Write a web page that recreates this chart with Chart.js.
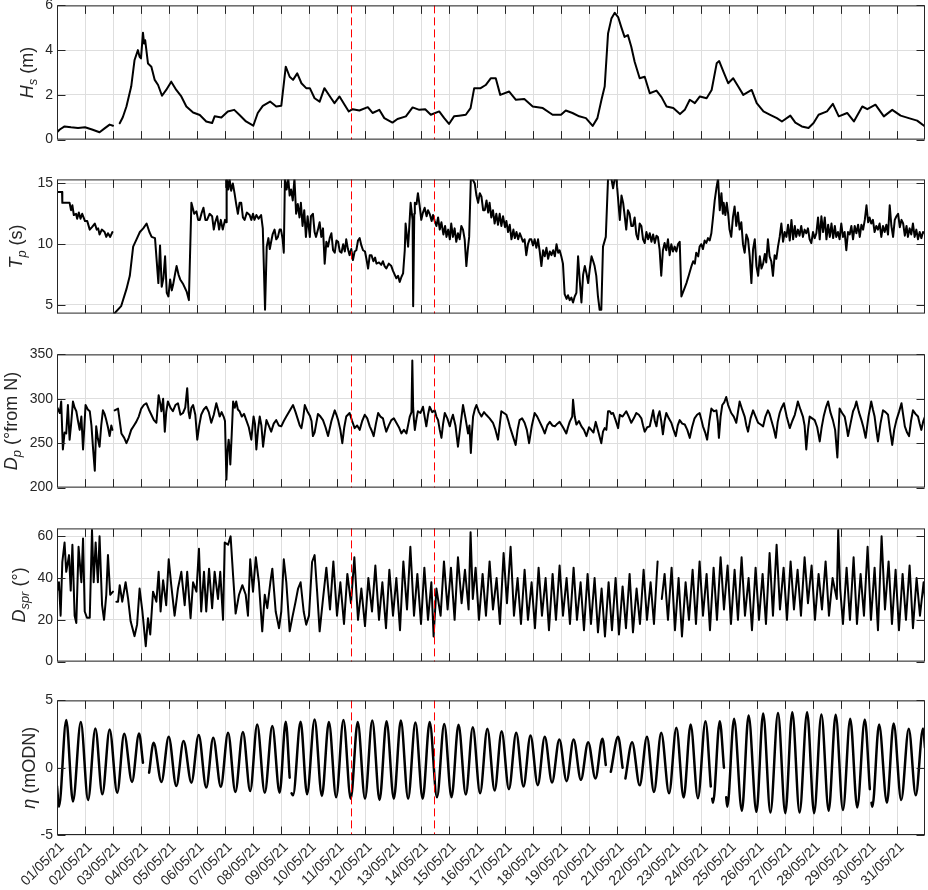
<!DOCTYPE html>
<html>
<head>
<meta charset="utf-8">
<script src="https://cdn.jsdelivr.net/npm/chart.js@4.4.0/dist/chart.umd.min.js"></script>
<style>
  html, body { margin: 0; padding: 0; background: #fff; overflow: hidden; }
  body { width: 928px; height: 890px; position: relative; }
  canvas { position: absolute; left: 0; }
</style>
</head>
<body>
<canvas id="hs"></canvas>
<canvas id="tp"></canvas>
<canvas id="dp"></canvas>
<canvas id="dspr"></canvas>
<canvas id="eta"></canvas>
<script>
"use strict";

// x axis: days since 01/05/21 00:00
const dayLabels = [
  "01/05/21", "02/05/21", "03/05/21", "04/05/21", "05/05/21", "06/05/21", "07/05/21", "08/05/21",
  "09/05/21", "10/05/21", "11/05/21", "12/05/21", "13/05/21", "14/05/21", "15/05/21", "16/05/21",
  "17/05/21", "18/05/21", "19/05/21", "20/05/21", "21/05/21", "22/05/21", "23/05/21", "24/05/21",
  "25/05/21", "26/05/21", "27/05/21", "28/05/21", "29/05/21", "30/05/21", "31/05/21"
];
const markerDays = [10.5, 13.46];

const hsTicks = [0, 2, 4, 6];
const tpTicks = [5, 10, 15];
const dpTicks = [200, 250, 300, 350];
const dsprTicks = [0, 20, 40, 60];
const etaTicks = [-5, 0, 5];

// [day, Hs (m)]
const waveHeight = [
  [0,0.33],[0.1,0.45],[0.27,0.59],[0.5,0.55],[0.75,0.52],[1,0.55],[1.25,0.45],[1.52,0.33],[1.7,0.5],[1.88,0.67],
  [2,0.62],[2.1,null],[2.24,0.73],[2.35,1.0],[2.48,1.48],[2.65,2.37],[2.77,3.56],[2.89,4.0],[2.95,3.7],[3.0,3.63],
  [3.07,4.78],[3.11,4.3],[3.15,4.44],[3.25,3.4],[3.37,3.26],[3.49,2.67],[3.61,2.44],[3.75,1.96],[3.9,2.22],[4.08,2.59],
  [4.26,2.22],[4.44,1.93],[4.62,1.48],[4.86,1.21],[5.1,1.1],[5.33,0.81],[5.54,0.74],[5.63,1.04],[5.87,0.99],[6.1,1.26],
  [6.33,1.33],[6.52,1.1],[6.75,0.81],[7.01,0.62],[7.17,1.19],[7.35,1.51],[7.61,1.7],[7.83,1.48],[8.01,1.51],[8.17,3.26],
  [8.31,2.81],[8.43,2.67],[8.58,2.96],[8.73,2.52],[8.9,2.3],[9.03,2.3],[9.2,1.85],[9.38,1.7],[9.55,2.3],[9.79,1.85],
  [9.91,1.63],[10.09,1.93],[10.27,1.56],[10.42,1.26],[10.56,1.36],[10.8,1.3],[11.1,1.45],[11.27,1.19],[11.51,1.33],[11.69,0.96],
  [11.98,0.76],[12.16,0.92],[12.46,1.04],[12.7,1.44],[12.94,1.33],[13.15,1.36],[13.35,1.11],[13.65,1.26],[13.83,0.96],[14.0,0.7],
  [14.18,1.04],[14.36,1.07],[14.6,1.11],[14.77,1.41],[14.9,2.3],[15.13,2.3],[15.31,2.44],[15.49,2.74],[15.67,2.74],[15.83,2.0],
  [16.15,2.15],[16.39,1.78],[16.69,1.81],[16.99,1.48],[17.35,1.41],[17.7,1.11],[18.0,1.11],[18.17,1.3],[18.41,1.19],[18.65,1.04],
  [18.89,0.96],[19.13,0.61],[19.3,0.96],[19.45,1.8],[19.56,2.37],[19.68,4.74],[19.8,5.41],[19.92,5.67],[20.04,5.48],[20.15,5.04],
  [20.27,4.59],[20.39,4.67],[20.51,4.15],[20.63,3.48],[20.81,2.74],[20.99,2.81],[21.17,2.07],[21.41,2.19],[21.59,1.9],[21.77,1.48],
  [22.01,1.41],[22.25,1.14],[22.42,1.33],[22.6,1.78],[22.78,1.63],[22.96,1.93],[23.2,1.85],[23.38,2.22],[23.56,3.41],[23.65,3.51],
  [23.8,3.04],[23.97,2.52],[24.15,2.74],[24.33,2.37],[24.51,2.0],[24.81,2.22],[24.99,1.63],[25.23,1.26],[25.47,1.11],[25.71,0.96],
  [25.89,0.81],[26.19,1.07],[26.37,0.76],[26.6,0.59],[26.84,0.52],[27.02,0.74],[27.2,1.11],[27.5,1.26],[27.71,1.6],[27.92,1.04],
  [28.22,1.19],[28.46,0.81],[28.76,1.48],[28.94,1.36],[29.23,1.56],[29.53,1.04],[29.83,1.33],[30.13,1.07],[30.42,0.96],[30.72,0.85],
  [31,0.59]
];

// [day, Tp (s)]
const peakPeriod = [
  [0,14.3],[0.18,14.3],[0.19,13.4],[0.45,13.4],[0.5,12.8],[0.55,13.2],[0.6,12.4],[0.68,12.5],[0.72,12.1],[0.78,12.6],
  [0.84,12.1],[0.9,12.5],[1.0,11.9],[1.08,11.9],[1.17,11.2],[1.25,11.4],[1.35,11.7],[1.42,11.2],[1.47,11.3],[1.52,10.8],
  [1.6,11.2],[1.7,11.0],[1.76,10.6],[1.82,10.9],[1.9,10.6],[1.98,11.0],[2.02,null],[2.05,4.3],[2.29,4.9],[2.48,6.3],
  [2.6,7.4],[2.72,9.8],[2.84,10.4],[2.96,11.0],[3.08,11.3],[3.2,11.7],[3.3,11.0],[3.38,10.6],[3.5,10.5],[3.62,6.8],
  [3.68,9.9],[3.74,6.5],[3.8,7.2],[3.86,9.0],[3.92,6.0],[3.98,5.7],[4.04,7.1],[4.1,6.2],[4.15,6.7],[4.22,7.6],
  [4.27,8.2],[4.34,7.5],[4.4,7.1],[4.51,6.7],[4.63,6.1],[4.71,5.4],[4.8,13.4],[4.9,12.5],[4.98,12.7],[5.04,12.0],
  [5.1,12.0],[5.17,12.6],[5.23,13.0],[5.3,12.0],[5.36,12.0],[5.45,12.5],[5.54,12.3],[5.6,11.2],[5.65,11.8],[5.72,12.3],
  [5.79,11.2],[5.85,12.0],[5.92,11.2],[6.0,12.0],[6.04,11.8],[6.06,15.4],[6.12,14.5],[6.16,15.4],[6.22,14.4],[6.28,15.0],
  [6.34,14.2],[6.4,13.3],[6.46,12.5],[6.52,13.4],[6.58,13.4],[6.64,12.2],[6.7,12.0],[6.78,12.6],[6.88,12.4],[6.94,12.0],
  [7.0,12.5],[7.05,12.0],[7.12,12.4],[7.2,12.1],[7.29,12.4],[7.35,11.3],[7.43,4.6],[7.49,9.8],[7.55,10.5],[7.6,9.6],
  [7.64,10.1],[7.7,10.8],[7.77,11.2],[7.83,10.4],[7.89,10.6],[7.95,11.2],[8.0,11.2],[8.06,10.4],[8.1,9.3],[8.14,15.4],
  [8.2,14.5],[8.26,15.4],[8.31,14.0],[8.36,14.5],[8.42,13.6],[8.48,15.4],[8.54,12.5],[8.6,13.3],[8.66,12.2],[8.71,13.4],
  [8.77,11.5],[8.83,12.8],[8.89,10.6],[8.95,12.3],[9.03,10.6],[9.07,12.3],[9.14,12.5],[9.2,11.0],[9.25,10.6],[9.32,11.2],
  [9.38,11.8],[9.44,10.6],[9.5,11.3],[9.56,8.4],[9.62,10.2],[9.68,9.8],[9.74,10.5],[9.8,10.9],[9.86,9.5],[9.92,9.3],
  [9.98,10.3],[10.04,10.2],[10.1,9.4],[10.16,9.3],[10.22,10.0],[10.28,9.4],[10.33,10.4],[10.39,9.6],[10.45,9.1],[10.51,9.6],
  [10.57,8.7],[10.63,9.4],[10.69,9.5],[10.75,10.3],[10.81,10.5],[10.87,9.9],[10.93,9.5],[11.0,9.4],[11.05,8.8],[11.11,8.0],
  [11.17,9.1],[11.23,9.1],[11.3,8.6],[11.36,8.9],[11.41,8.4],[11.5,8.5],[11.58,8.3],[11.64,8.6],[11.7,8.2],[11.76,8.0],
  [11.85,8.4],[11.94,8.2],[12.0,7.8],[12.06,7.5],[12.12,7.2],[12.18,7.4],[12.24,6.9],[12.3,7.3],[12.36,7.6],[12.42,9.5],
  [12.45,11.7],[12.5,10.6],[12.54,9.8],[12.6,12.2],[12.63,13.4],[12.7,12.0],[12.72,4.9],[12.76,12.5],[12.78,13.4],[12.84,13.3],
  [12.89,14.2],[12.95,13.2],[13.01,12.0],[13.07,12.6],[13.13,13.0],[13.2,12.3],[13.25,12.8],[13.31,12.5],[13.38,11.9],[13.43,12.4],
  [13.49,11.9],[13.55,11.5],[13.61,12.2],[13.67,11.2],[13.73,11.8],[13.8,10.8],[13.86,11.5],[13.91,10.6],[13.97,11.2],[14.03,10.4],
  [14.08,11.7],[14.14,10.6],[14.2,11.3],[14.26,10.2],[14.32,10.9],[14.38,10.4],[14.44,11.5],[14.5,11.2],[14.56,10.4],[14.62,8.2],
  [14.67,9.5],[14.72,10.6],[14.78,15.4],[14.85,15.3],[14.92,15.0],[14.98,14.0],[15.04,13.4],[15.1,14.2],[15.16,13.9],[15.22,12.8],
  [15.28,12.8],[15.34,13.6],[15.4,12.6],[15.45,13.4],[15.51,12.2],[15.57,12.8],[15.63,11.7],[15.69,12.5],[15.75,11.6],[15.81,12.5],
  [15.87,11.5],[15.93,12.3],[16.0,11.4],[16.05,11.9],[16.11,11.0],[16.17,11.6],[16.23,10.4],[16.3,11.2],[16.35,10.5],[16.41,11.0],
  [16.47,10.4],[16.53,10.9],[16.58,10.6],[16.64,10.2],[16.7,10.4],[16.76,9.1],[16.82,10.0],[16.88,10.4],[16.94,10.4],[17.0,9.9],
  [17.06,10.4],[17.12,9.7],[17.18,10.4],[17.24,9.4],[17.3,8.2],[17.36,9.5],[17.42,9.0],[17.48,9.7],[17.54,8.8],[17.6,9.4],
  [17.66,9.1],[17.72,9.5],[17.78,9.0],[17.84,10.0],[17.9,9.3],[17.95,9.5],[18.01,9.0],[18.07,8.4],[18.13,5.9],[18.2,5.5],
  [18.25,5.8],[18.31,5.4],[18.37,5.6],[18.43,5.2],[18.49,5.7],[18.55,6.0],[18.61,9.0],[18.67,7.0],[18.73,5.2],[18.79,7.5],
  [18.85,8.2],[18.91,7.6],[18.97,6.8],[19.03,8.0],[19.09,9.0],[19.15,8.6],[19.2,8.2],[19.26,7.4],[19.32,5.7],[19.38,4.6],
  [19.44,4.6],[19.5,9.8],[19.6,10.6],[19.68,15.4],[19.8,15.4],[19.86,14.6],[19.92,15.4],[19.98,15.4],[20.1,12.0],[20.16,14.0],
  [20.22,13.4],[20.28,12.2],[20.33,11.2],[20.39,12.8],[20.45,12.5],[20.51,11.5],[20.57,11.5],[20.63,12.2],[20.69,10.8],[20.75,10.4],
  [20.81,11.7],[20.87,11.5],[20.93,10.4],[20.99,10.1],[21.05,11.0],[21.11,10.4],[21.17,10.9],[21.23,10.2],[21.29,10.8],[21.35,10.1],
  [21.41,10.7],[21.46,10.6],[21.52,9.6],[21.58,7.4],[21.64,9.5],[21.7,10.1],[21.76,9.5],[21.82,10.4],[21.88,9.1],[21.94,10.0],
  [22.0,9.4],[22.06,9.8],[22.12,9.4],[22.18,10.0],[22.24,10.2],[22.3,5.7],[22.4,6.3],[22.48,6.8],[22.56,7.4],[22.66,8.2],
  [22.72,8.6],[22.78,8.4],[22.83,9.3],[22.9,9.0],[22.95,9.8],[23.01,10.0],[23.07,9.6],[23.13,10.3],[23.19,10.1],[23.25,10.5],
  [23.31,10.3],[23.37,10.9],[23.43,12.2],[23.49,13.6],[23.55,14.6],[23.61,15.4],[23.67,12.8],[23.73,14.2],[23.78,12.5],[23.81,13.4],
  [23.87,12.4],[23.92,13.4],[23.97,12.5],[24.02,11.2],[24.08,10.6],[24.14,12.2],[24.2,13.1],[24.26,11.5],[24.32,12.6],[24.38,11.2],
  [24.44,11.8],[24.5,10.0],[24.56,9.3],[24.62,10.8],[24.68,10.4],[24.74,9.0],[24.8,6.8],[24.86,9.6],[24.92,10.4],[24.98,8.2],
  [25.04,7.4],[25.1,9.0],[25.16,8.0],[25.22,8.4],[25.28,9.2],[25.33,8.5],[25.39,10.4],[25.45,9.0],[25.51,8.6],[25.57,7.4],
  [25.63,9.1],[25.69,8.8],[25.75,9.8],[25.81,10.6],[25.87,11.7],[25.93,10.2],[25.99,11.0],[26.05,10.6],[26.11,11.6],[26.17,10.3],
  [26.23,12.0],[26.29,10.4],[26.35,11.5],[26.4,10.6],[26.46,11.2],[26.52,10.7],[26.58,11.5],[26.64,10.6],[26.7,11.2],[26.76,10.9],
  [26.82,11.3],[26.88,10.4],[26.94,10.1],[27.0,11.0],[27.06,10.5],[27.12,10.9],[27.18,12.2],[27.24,10.4],[27.3,12.3],[27.36,11.0],
  [27.42,12.2],[27.48,10.4],[27.54,11.6],[27.6,10.6],[27.66,11.7],[27.72,10.5],[27.78,11.5],[27.83,10.6],[27.89,11.0],[27.95,10.4],
  [28.01,11.7],[28.07,10.6],[28.13,11.0],[28.19,9.5],[28.25,11.0],[28.31,10.8],[28.37,11.5],[28.43,10.4],[28.49,11.5],[28.55,10.9],
  [28.61,11.6],[28.67,10.6],[28.73,11.6],[28.79,11.2],[28.85,12.0],[28.91,13.2],[28.97,11.8],[29.02,12.2],[29.08,11.7],[29.14,12.0],
  [29.2,11.0],[29.26,11.5],[29.32,11.2],[29.38,11.7],[29.44,10.6],[29.5,11.5],[29.56,11.0],[29.62,11.6],[29.68,10.8],[29.74,13.2],
  [29.8,11.5],[29.86,10.6],[29.92,12.0],[29.98,12.3],[30.04,12.5],[30.1,11.4],[30.16,12.0],[30.22,11.7],[30.28,10.7],[30.34,11.5],
  [30.39,10.6],[30.45,11.3],[30.51,10.8],[30.57,11.7],[30.63,10.6],[30.69,11.2],[30.75,10.4],[30.81,11.0],[30.87,10.5],[30.93,11.0],
  [31,10.9]
];

// [day, Dp (deg from N)]
const peakDirection = [
  [0,291],[0.1,284],[0.15,297],[0.21,243],[0.27,262],[0.33,261],[0.39,293],[0.45,254],[0.5,270],[0.57,297],
  [0.63,290],[0.69,286],[0.75,275],[0.81,265],[0.87,280],[0.93,243],[0.98,270],[1.02,293],[1.1,288],[1.17,286],
  [1.23,270],[1.29,243],[1.35,219],[1.4,269],[1.46,255],[1.52,246],[1.58,270],[1.64,287],[1.7,283],[1.76,276],
  [1.82,268],[1.88,258],[1.94,270],[1.98,265],[2.02,null],[2.06,287],[2.18,289],[2.3,261],[2.4,256],[2.48,250],
  [2.56,256],[2.65,265],[2.75,270],[2.83,274],[2.92,280],[3.01,289],[3.1,293],[3.19,295],[3.28,288],[3.37,282],
  [3.46,276],[3.55,273],[3.63,304],[3.68,296],[3.73,286],[3.79,300],[3.85,263],[3.9,285],[3.96,297],[4.05,290],
  [4.14,286],[4.23,293],[4.32,295],[4.41,282],[4.5,284],[4.58,290],[4.65,312],[4.7,285],[4.74,278],[4.8,290],
  [4.86,293],[4.94,282],[5.01,254],[5.08,270],[5.15,282],[5.24,288],[5.33,291],[5.42,285],[5.51,273],[5.6,282],
  [5.69,295],[5.75,288],[5.81,280],[5.88,285],[5.95,280],[6.0,275],[6.05,209],[6.09,240],[6.13,254],[6.16,245],
  [6.19,226],[6.24,260],[6.29,297],[6.35,290],[6.4,297],[6.46,288],[6.52,286],[6.6,280],[6.68,283],[6.76,276],
  [6.85,268],[6.94,254],[7.02,280],[7.07,272],[7.12,243],[7.18,265],[7.24,280],[7.3,270],[7.36,246],[7.42,262],
  [7.48,276],[7.56,270],[7.65,263],[7.74,272],[7.83,276],[7.92,270],[8.01,269],[8.1,275],[8.19,280],[8.3,286],
  [8.43,293],[8.52,285],[8.61,276],[8.67,270],[8.73,267],[8.79,278],[8.85,293],[8.94,286],[9.03,281],[9.09,275],
  [9.14,258],[9.2,262],[9.32,283],[9.41,280],[9.5,276],[9.59,268],[9.68,258],[9.8,275],[9.92,287],[9.98,282],
  [10.04,276],[10.12,265],[10.19,250],[10.26,268],[10.33,280],[10.45,284],[10.54,275],[10.63,267],[10.72,270],[10.81,265],
  [10.9,275],[10.99,282],[11.08,278],[11.17,269],[11.24,264],[11.31,258],[11.39,272],[11.47,284],[11.55,280],[11.64,278],
  [11.7,270],[11.76,263],[11.85,270],[11.94,276],[12.03,278],[12.12,273],[12.21,268],[12.3,261],[12.39,265],[12.48,261],
  [12.55,272],[12.6,280],[12.66,285],[12.69,343],[12.72,290],[12.75,275],[12.78,265],[12.84,278],[12.89,286],[12.98,284],
  [13.07,291],[13.13,280],[13.19,269],[13.25,282],[13.31,291],[13.4,285],[13.49,287],[13.55,280],[13.61,276],[13.67,265],
  [13.73,256],[13.79,272],[13.85,284],[13.94,278],[14.03,269],[14.08,276],[14.14,282],[14.23,270],[14.32,246],[14.41,270],
  [14.5,293],[14.59,278],[14.68,261],[14.73,270],[14.78,239],[14.82,262],[14.86,280],[14.92,288],[14.98,293],[15.07,285],
  [15.16,280],[15.25,285],[15.33,282],[15.45,278],[15.57,273],[15.66,265],[15.75,254],[15.81,270],[15.87,286],[15.96,284],
  [16.05,282],[16.11,276],[16.17,269],[16.28,258],[16.38,248],[16.45,265],[16.52,276],[16.61,278],[16.7,273],[16.78,265],
  [16.86,250],[16.96,270],[17.06,284],[17.15,280],[17.24,274],[17.33,268],[17.42,261],[17.51,270],[17.6,274],[17.69,270],
  [17.78,269],[17.87,272],[17.95,274],[18.07,268],[18.19,261],[18.25,268],[18.31,274],[18.4,280],[18.43,299],[18.49,280],
  [18.55,271],[18.64,275],[18.73,269],[18.82,265],[18.91,258],[19.0,268],[19.08,265],[19.16,262],[19.24,274],[19.34,262],
  [19.44,250],[19.5,263],[19.56,267],[19.62,265],[19.68,286],[19.74,286],[19.8,283],[19.86,284],[19.95,276],[20.04,267],
  [20.1,282],[20.2,280],[20.33,286],[20.42,280],[20.51,273],[20.6,278],[20.69,284],[20.78,282],[20.87,278],[20.93,270],
  [20.99,263],[21.08,268],[21.17,269],[21.23,278],[21.29,287],[21.35,275],[21.41,269],[21.46,280],[21.52,286],[21.58,275],
  [21.64,260],[21.7,275],[21.76,284],[21.85,278],[21.94,273],[22.02,265],[22.1,258],[22.17,270],[22.24,276],[22.33,272],
  [22.42,271],[22.51,265],[22.6,256],[22.68,268],[22.77,278],[22.86,282],[22.95,284],[23.01,277],[23.07,269],[23.15,262],
  [23.22,254],[23.3,275],[23.37,289],[23.46,286],[23.55,287],[23.6,275],[23.64,256],[23.7,280],[23.76,293],[23.83,296],
  [23.9,302],[23.97,293],[24.08,284],[24.17,280],[24.26,273],[24.32,285],[24.38,297],[24.47,288],[24.56,280],[24.62,270],
  [24.68,263],[24.77,278],[24.86,287],[24.95,280],[25.04,273],[25.13,271],[25.22,269],[25.3,280],[25.39,287],[25.45,283],
  [25.51,276],[25.6,266],[25.67,256],[25.74,274],[25.81,284],[25.88,290],[25.96,295],[26.06,280],[26.17,267],[26.26,275],
  [26.35,282],[26.41,290],[26.46,297],[26.55,288],[26.64,280],[26.7,270],[26.76,243],[26.82,265],[26.88,280],[26.97,278],
  [27.06,276],[27.15,268],[27.24,252],[27.31,268],[27.38,280],[27.46,290],[27.54,297],[27.62,285],[27.71,276],[27.79,265],
  [27.87,234],[27.91,262],[27.95,289],[28.04,284],[28.13,280],[28.19,270],[28.25,258],[28.34,272],[28.43,286],[28.49,290],
  [28.55,297],[28.64,285],[28.73,276],[28.8,268],[28.88,256],[28.98,280],[29.08,297],[29.14,288],[29.2,280],[29.26,265],
  [29.32,252],[29.41,272],[29.5,287],[29.59,285],[29.68,282],[29.75,265],[29.83,248],[29.9,265],[29.98,276],[30.07,285],
  [30.16,295],[30.22,282],[30.28,269],[30.36,262],[30.43,258],[30.5,275],[30.57,287],[30.66,283],[30.75,280],[30.81,272],
  [30.87,265],[30.94,275],[31,280]
];

// [day, directional spread (deg)]
const dirSpread = [
  [0,33.5],[0.07,38],[0.13,22],[0.19,47.7],[0.27,57],[0.33,43],[0.43,51],[0.49,34],[0.55,56],[0.63,22],
  [0.69,18.5],[0.77,55],[0.87,38],[0.93,59],[0.99,24],[1.07,21],[1.17,21],[1.25,63],[1.31,38],[1.38,57],
  [1.46,38],[1.52,60],[1.61,27],[1.68,20],[1.76,32],[1.82,51],[1.9,32],[2.0,33.5],[2.05,null],[2.12,28.7],
  [2.18,28.7],[2.24,36.6],[2.33,28.7],[2.45,38],[2.54,30],[2.63,19.3],[2.77,12.2],[2.86,17.7],[2.95,35],[3.05,24],
  [3.17,7.4],[3.25,20.8],[3.33,13],[3.43,33.5],[3.55,28.7],[3.63,43],[3.7,24],[3.79,39],[3.9,27],[3.99,49],
  [4.08,36.6],[4.2,22],[4.32,35],[4.44,43],[4.56,27],[4.65,43],[4.77,20.8],[4.86,38],[4.98,33.5],[5.07,54],
  [5.15,24],[5.25,43],[5.33,24],[5.43,44.5],[5.54,25.6],[5.63,43],[5.75,30],[5.83,43],[5.93,20],[5.99,57],
  [6.11,56],[6.2,60],[6.29,41],[6.38,23],[6.5,32],[6.62,36.6],[6.74,32],[6.82,22],[6.9,49],[7.0,33.5],
  [7.1,50],[7.21,38],[7.33,14.5],[7.42,32],[7.51,25.6],[7.62,38],[7.69,44.5],[7.81,24],[7.93,16],[8.01,24],
  [8.1,49],[8.19,38],[8.31,14.5],[8.4,20.8],[8.52,28.7],[8.61,35],[8.7,38],[8.81,24],[8.9,17.7],[9.0,22],
  [9.11,47.7],[9.2,51],[9.29,33.5],[9.38,14.5],[9.5,30],[9.62,45],[9.75,25],[9.87,48],[10.0,22],[10.12,38],
  [10.25,18],[10.37,42],[10.5,28],[10.62,50],[10.75,20],[10.87,35],[11.0,17],[11.12,40],[11.25,24],[11.37,46],
  [11.5,20],[11.62,38],[11.75,16],[11.87,44],[12.0,22],[12.12,40],[12.25,15],[12.37,48],[12.5,25],[12.62,55],
  [12.75,22],[12.87,42],[13.0,18],[13.12,45],[13.25,20],[13.37,38],[13.45,12],[13.55,35],[13.7,22],[13.82,48],
  [13.95,25],[14.07,45],[14.2,20],[14.32,50],[14.45,28],[14.57,44],[14.7,25],[14.77,62],[14.85,30],[14.95,45],
  [15.07,20],[15.2,42],[15.32,22],[15.45,48],[15.57,25],[15.7,40],[15.82,18],[15.95,52],[16.07,28],[16.2,55],
  [16.32,22],[16.45,40],[16.57,18],[16.7,44],[16.82,20],[16.95,38],[17.07,16],[17.2,45],[17.32,22],[17.45,40],
  [17.57,15],[17.7,42],[17.82,20],[17.95,46],[18.07,22],[18.2,40],[18.32,18],[18.45,45],[18.57,20],[18.7,38],
  [18.82,15],[18.95,42],[19.07,18],[19.2,40],[19.32,14],[19.45,35],[19.57,12],[19.7,38],[19.82,15],[19.95,40],
  [20.07,13],[20.2,36],[20.32,16],[20.45,42],[20.57,14],[20.7,35],[20.82,18],[20.95,44],[21.07,20],[21.2,38],
  [21.32,18],[21.45,48],[21.5,null],[21.6,30],[21.7,42],[21.82,20],[21.95,45],[22.07,15],[22.2,40],[22.32,12],
  [22.45,38],[22.57,20],[22.7,44],[22.82,18],[22.95,48],[23.07,22],[23.2,42],[23.32,15],[23.45,45],[23.57,20],
  [23.7,50],[23.82,25],[23.95,46],[24.07,18],[24.2,44],[24.32,20],[24.45,50],[24.57,22],[24.7,40],[24.82,15],
  [24.95,45],[25.07,20],[25.2,42],[25.32,18],[25.45,52],[25.57,22],[25.7,56],[25.82,25],[25.95,45],[26.07,20],
  [26.2,48],[26.32,25],[26.45,44],[26.57,22],[26.7,50],[26.82,28],[26.95,46],[27.07,20],[27.2,42],[27.32,25],
  [27.45,48],[27.57,22],[27.7,40],[27.85,30],[27.9,63],[27.97,35],[28.07,18],[28.2,45],[28.32,20],[28.45,50],
  [28.57,18],[28.7,42],[28.82,22],[28.95,55],[29.07,20],[29.2,45],[29.32,15],[29.45,60],[29.57,25],[29.7,48],
  [29.82,18],[29.95,44],[30.07,15],[30.2,42],[30.32,20],[30.45,46],[30.57,16],[30.7,40],[30.82,22],[30.95,38],
  [31,30]
];

// [day, water level (m ODN)] at high and low waters
const waterLevel = [
  [0,-1.36],[0.07,-2.9],[0.33,3.54],[0.57,-2.52],[0.85,3.39],[1.11,-2.4],[1.37,2.92],[1.62,-1.98],[1.88,2.84],[2.15,-1.86],
  [2.4,2.52],[2.68,-1.06],[2.93,2.54],[3.07,0.37],[3.15,null],[3.29,-0.37],[3.45,1.85],[3.73,-1.06],[3.99,2.3],[4.26,-1.36],
  [4.52,1.98],[4.8,-1.11],[5.06,2.43],[5.33,-1.48],[5.58,2.23],[5.85,-1.41],[6.11,2.6],[6.37,-1.8],[6.64,2.65],[6.9,-1.73],
  [7.15,3.21],[7.42,-1.86],[7.69,3.09],[7.95,-1.86],[8.17,3.41],[8.31,-0.74],[8.34,null],[8.38,-1.9],[8.43,-2.05],[8.7,3.41],
  [8.93,-1.98],[9.2,3.59],[9.46,-2.1],[9.71,3.4],[9.97,-2.2],[10.23,3.55],[10.49,-2.3],[10.74,3.4],[11.0,-2.3],[11.26,3.5],
  [11.52,-2.4],[11.77,3.45],[12.03,-2.3],[12.28,3.5],[12.54,-2.3],[12.8,3.35],[13.06,-2.3],[13.31,3.4],[13.57,-2.2],[13.83,3.25],
  [14.09,-2.2],[14.34,3.2],[14.6,-2.0],[14.85,3.0],[15.11,-1.9],[15.37,2.9],[15.63,-1.7],[15.88,2.7],[16.14,-1.6],[16.4,2.6],
  [16.66,-1.4],[16.91,2.4],[17.17,-1.3],[17.42,2.3],[17.68,-1.1],[17.94,2.1],[18.2,-1.0],[18.45,2.1],[18.71,-0.9],[18.97,1.9],
  [19.23,-0.8],[19.48,2.15],[19.6,0.2],[19.63,null],[19.78,-0.3],[20.04,2.3],[20.2,0.0],[20.23,null],[20.3,-0.8],[20.54,1.9],
  [20.81,-1.31],[21.07,2.3],[21.32,-1.8],[21.58,2.6],[21.86,-1.9],[22.12,2.97],[22.38,-2.22],[22.63,3.21],[22.89,-2.27],[23.16,3.46],
  [23.35,-1.4],[23.37,null],[23.4,-2.3],[23.43,-2.6],[23.67,3.46],[23.82,0.0],[23.85,null],[23.9,-2.2],[23.94,-2.9],[24.18,3.64],
  [24.46,-3.2],[24.7,3.88],[24.98,-3.28],[25.22,4.02],[25.48,-3.33],[25.75,4.07],[26.01,-3.38],[26.26,4.12],[26.52,-3.33],[26.79,4.12],
  [27.04,-3.38],[27.3,3.95],[27.56,-3.2],[27.81,3.93],[28.07,-3.14],[28.33,3.64],[28.58,-2.96],[28.85,3.59],[29.03,-1.6],[29.05,null],
  [29.09,-2.6],[29.12,-2.9],[29.36,3.21],[29.64,-2.6],[29.88,3.29],[30.15,-2.4],[30.42,2.89],[30.67,-2.05],[30.93,2.92],[31,1.48]
];

const FONT = '"Liberation Sans", Arial, Helvetica, sans-serif';
const INK = "#262626";

// box, inward tick marks, marker lines and the y label
const framePlugin = {
  id: "frame",
  afterDatasetsDraw(chart) {
    const { ctx, chartArea: a, scales } = chart;
    ctx.save();
    ctx.strokeStyle = "#ff0000";
    ctx.lineWidth = 1;
    ctx.setLineDash([8, 4]);
    markerDays.forEach((d) => {
      const px = Math.round(scales.x.getPixelForValue(d)) + 0.5;
      ctx.beginPath();
      ctx.moveTo(px, a.top);
      ctx.lineTo(px, a.bottom);
      ctx.stroke();
    });
    ctx.restore();
  },
  afterDraw(chart, args, opts) {
    const { ctx, chartArea: a, scales } = chart;
    const L = a.left + 0.5, R = a.right - 0.5, T = a.top + 0.5, B = a.bottom - 0.5;
    ctx.save();
    ctx.strokeStyle = INK;
    ctx.lineWidth = 1;
    ctx.beginPath();
    scales.x.ticks.forEach((t) => {
      const px = Math.round(scales.x.getPixelForValue(t.value)) + 0.5;
      ctx.moveTo(px, B); ctx.lineTo(px, B - 8);
      ctx.moveTo(px, T); ctx.lineTo(px, T + 8);
    });
    scales.y.ticks.forEach((t) => {
      const py = Math.round(scales.y.getPixelForValue(t.value)) + 0.5;
      ctx.moveTo(L, py); ctx.lineTo(L + 8, py);
      ctx.moveTo(R, py); ctx.lineTo(R - 8, py);
    });
    ctx.stroke();
    ctx.strokeRect(L, T, R - L, B - T);

    // rotated y label, built from pieces so subscripts work
    const parts = opts.label;
    const styleOf = (p) => (p[1] === "sub" ? "italic 13px " : p[1] === "it" ? "italic 18px " : "18px ") + FONT;
    let total = 0;
    parts.forEach((p) => { ctx.font = styleOf(p); total += ctx.measureText(p[0]).width; });
    ctx.translate(opts.baseX, (a.top + a.bottom) / 2);
    ctx.rotate(-Math.PI / 2);
    ctx.fillStyle = INK;
    ctx.textBaseline = "alphabetic";
    ctx.textAlign = "left";
    let cx = -total / 2;
    parts.forEach((p) => {
      ctx.font = styleOf(p);
      ctx.fillText(p[0], cx, p[1] === "sub" ? 4 : 0);
      cx += ctx.measureText(p[0]).width;
    });
    ctx.restore();
  }
};

function makePanel(id, top, height, xAxisHeight, padBottom, series, yMin, yMax, yTicks, label, baseX, smooth, lineWidth) {
  const canvas = document.getElementById(id);
  canvas.width = 928;
  canvas.height = height;
  canvas.style.top = top + "px";
  const showDates = xAxisHeight > 0;

  return new Chart(canvas, {
    type: "line",
    data: {
      datasets: [{
        data: series.map((p) => ({ x: p[0], y: p[1] })),
        borderColor: "#000",
        borderWidth: lineWidth,
        pointRadius: 0,
        tension: 0,
        cubicInterpolationMode: smooth ? "monotone" : "default",
        spanGaps: false,
        borderJoinStyle: "round",
        borderCapStyle: "round"
      }]
    },
    options: {
      responsive: false,
      animation: false,
      events: [],
      layout: { padding: { left: 0, right: 3, top: 12, bottom: padBottom } },
      plugins: {
        legend: { display: false },
        tooltip: { enabled: false },
        frame: { label: label, baseX: baseX }
      },
      scales: {
        x: {
          type: "linear",
          min: 0,
          max: 31,
          afterBuildTicks: (s) => { s.ticks = dayLabels.map((_, i) => ({ value: i })); },
          afterFit: (s) => { s.height = xAxisHeight; },
          grid: { color: "#dedede", drawTicks: false },
          border: { display: false },
          ticks: {
            display: showDates,
            autoSkip: false,
            minRotation: 45,
            maxRotation: 45,
            padding: 4,
            labelOffset: 5,
            color: INK,
            font: { family: FONT, size: 14 },
            callback: (v) => dayLabels[v] || ""
          }
        },
        y: {
          min: yMin,
          max: yMax,
          afterBuildTicks: (s) => { s.ticks = yTicks.map((v) => ({ value: v })); },
          afterFit: (s) => { s.width = 57; },
          grid: { color: "#dedede", drawTicks: false },
          border: { display: false },
          ticks: { padding: 4, color: INK, font: { family: FONT, size: 14 } }
        }
      }
    },
    plugins: [framePlugin]
  });
}

makePanel("hs", -7, 159, 0, 12, waveHeight, 0, 6, hsTicks,
  [["H", "it"], ["s", "sub"], [" (m)", "n"]], 33, false, 2);
makePanel("tp", 167, 159, 0, 12, peakPeriod, 4.29, 15.33, tpTicks,
  [["T", "it"], ["p", "sub"], [" (s)", "n"]], 22, false, 2);
makePanel("dp", 342, 158, 0, 12, peakDirection, 200, 350, dpTicks,
  [["D", "it"], ["p", "sub"], [" (\u00b0from N)", "n"]], 17, false, 2);
makePanel("dspr", 516, 158, 0, 12, dirSpread, 0, 63.8, dsprTicks,
  [["D", "it"], ["spr", "sub"], [" (\u00b0)", "n"]], 25, false, 2);
makePanel("eta", 688, 202, 55, 0, waterLevel, -5, 5, etaTicks,
  [["\u03b7", "it"], [" (mODN)", "n"]], 35, true, 2.5);
</script>
</body>
</html>
